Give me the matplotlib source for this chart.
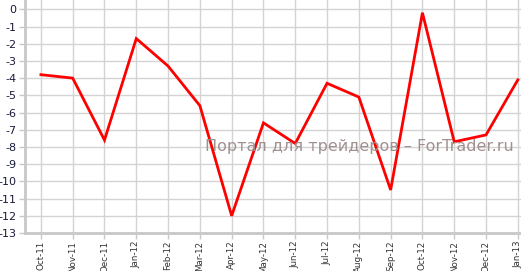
import matplotlib
matplotlib.use("Agg")
import matplotlib.pyplot as plt

months = ["Oct-11", "Nov-11", "Dec-11", "Jan-12", "Feb-12", "Mar-12", "Apr-12", "May-12",
          "Jun-12", "Jul-12", "Aug-12", "Sep-12", "Oct-12", "Nov-12", "Dec-12", "Jan-13"]
values = [-3.8, -4.0, -7.6, -1.7, -3.3, -5.6, -12.0, -6.6,
          -7.8, -4.3, -5.1, -10.5, -0.2, -7.7, -7.3, -4.1]
y_ticks = list(range(0, -14, -1))

W, H = 521, 271
fig = plt.figure(figsize=(W / 100, H / 100), dpi=100)
ax = fig.add_axes([25 / W, (H - 233) / H, (W - 25) / W, 233 / H])

x = list(range(len(months)))
ax.plot(x, values, color="#ff0000", lw=2, solid_joinstyle="miter", zorder=3)

ax.set_xlim(-0.5, len(months) - 1 + 0.1)
ax.set_ylim(-13, 0.54)
ax.set_xticks(x)
ax.set_xticklabels(months, rotation=90, fontsize=6.3, color="#333333")
ax.set_yticks(y_ticks)
ax.set_yticklabels([str(v) for v in y_ticks], fontsize=8, color="#1a1a3a")
ax.tick_params(axis="both", length=4, width=1, color="#c8c8c8", pad=2)
ax.tick_params(axis="x", pad=1.5)

ax.grid(True, color="#d4d4d4", lw=1)
ax.set_axisbelow(True)
for side in ("top", "right"):
    ax.spines[side].set_visible(False)
for side in ("left", "bottom"):
    ax.spines[side].set_color("#c8c8c8")
    ax.spines[side].set_linewidth(2)

ax.text(0.675, 0.373, "Портал для трейдеров – ForTrader.ru", transform=ax.transAxes,
        ha="center", va="center", fontsize=11.5, color="#a09090", zorder=4)

fig.savefig("out.png", dpi=100)
